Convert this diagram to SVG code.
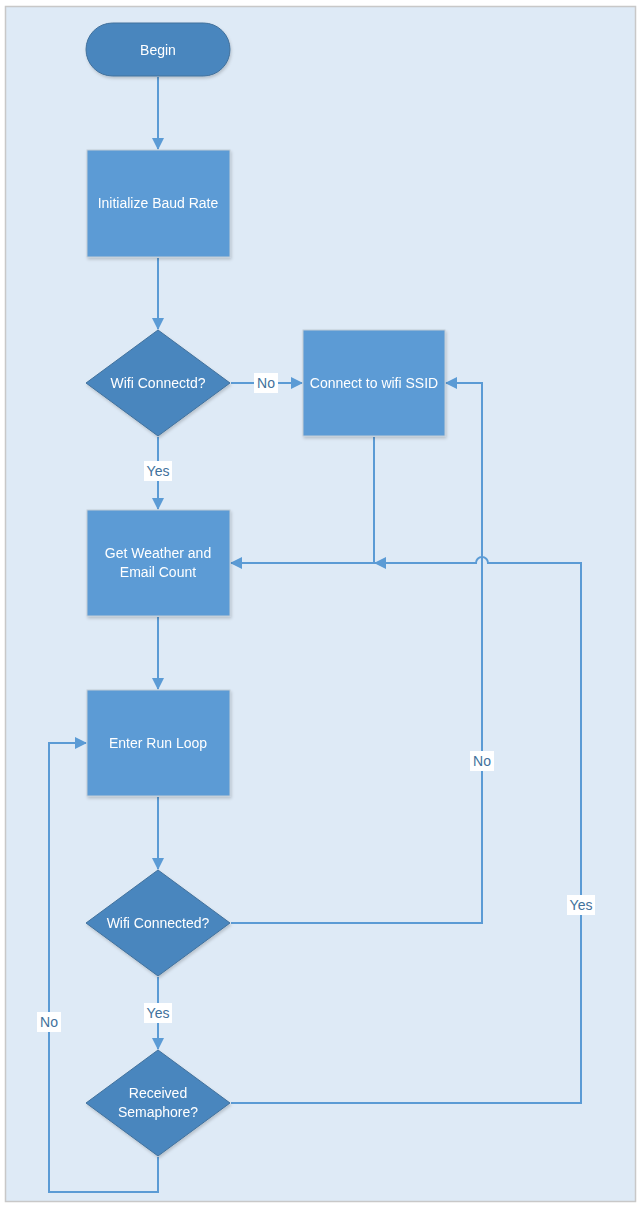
<svg xmlns="http://www.w3.org/2000/svg" width="639" height="1208" viewBox="0 0 639 1208">
<style>
.bg{fill:#DEEAF6;stroke:#C8C8C8;stroke-width:1.5}
.box{fill:#5B9BD5;stroke:#C2CCD6;stroke-width:1}
.dec{fill:#4A86BE;stroke:#41719C;stroke-width:1}
.t{font-family:"Liberation Sans",Arial,sans-serif;font-size:14px;fill:#FFFFFF;text-anchor:middle;dominant-baseline:central}
.ln{fill:none;stroke:#5B9BD5;stroke-width:2}
.lb{fill:#FFFFFF}
.lt{font-family:"Liberation Sans",Arial,sans-serif;font-size:14px;fill:#41719C;text-anchor:middle;dominant-baseline:central}
</style>
<defs>
<marker id="ah" markerWidth="12" markerHeight="12" refX="11" refY="6" orient="auto" markerUnits="userSpaceOnUse" viewBox="0 0 12 12">
<path d="M0,0 L12,6 L0,12 z" fill="#5B9BD5"/>
</marker>
<filter id="sh" x="-10%" y="-10%" width="130%" height="130%">
<feDropShadow dx="1" dy="2" stdDeviation="1.5" flood-color="#000" flood-opacity="0.18"/>
</filter>
</defs>
<rect class="bg" x="5.5" y="6.5" width="630" height="1195"/>
<g id="connectors">
<line class="ln" x1="158" y1="77" x2="158" y2="149" marker-end="url(#ah)"/>
<line class="ln" x1="158" y1="258" x2="158" y2="329" marker-end="url(#ah)"/>
<line class="ln" x1="231" y1="383" x2="302" y2="383" marker-end="url(#ah)"/>
<line class="ln" x1="158" y1="437" x2="158" y2="509" marker-end="url(#ah)"/>
<polyline class="ln" points="374,437 374,563 231,563" marker-end="url(#ah)"/>
<line class="ln" x1="158" y1="617" x2="158" y2="689" marker-end="url(#ah)"/>
<line class="ln" x1="158" y1="797" x2="158" y2="869" marker-end="url(#ah)"/>
<polyline class="ln" points="231,923 482,923 482,383 446,383" marker-end="url(#ah)"/>
<line class="ln" x1="158" y1="977" x2="158" y2="1049" marker-end="url(#ah)"/>
<path class="ln" d="M231,1103 H581 V563 H488 A6,6 0 0 0 476,563 H375" marker-end="url(#ah)"/>
<polyline class="ln" points="158,1157 158,1192 49,1192 49,743 86,743" marker-end="url(#ah)"/>
<rect class="lb" x="254" y="373" width="24" height="20"/>
<text class="lt" x="266" y="383">No</text>
<rect class="lb" x="144" y="461" width="28" height="20"/>
<text class="lt" x="158" y="471">Yes</text>
<rect class="lb" x="470" y="751" width="24" height="20"/>
<text class="lt" x="482" y="761">No</text>
<rect class="lb" x="567" y="895" width="28" height="20"/>
<text class="lt" x="581" y="905">Yes</text>
<rect class="lb" x="144" y="1003" width="28" height="20"/>
<text class="lt" x="158" y="1013">Yes</text>
<rect class="lb" x="37" y="1012" width="24" height="20"/>
<text class="lt" x="49" y="1022">No</text>
</g>
<g id="begin" filter="url(#sh)">
<rect class="dec" x="86" y="23" width="144" height="53" rx="26.5"/>
<text class="t" x="158" y="50">Begin</text>
</g>
<g id="init" filter="url(#sh)">
<rect class="box" x="87" y="150" width="143" height="107"/>
<text class="t" x="158" y="203">Initialize Baud Rate</text>
</g>
<g id="wifi1" filter="url(#sh)">
<polygon class="dec" points="158,330 230,383 158,436 86,383"/>
<text class="t" x="158" y="383">Wifi Connectd?</text>
</g>
<g id="connect" filter="url(#sh)">
<rect class="box" x="303" y="330" width="142" height="106"/>
<text class="t" x="374" y="383">Connect to wifi SSID</text>
</g>
<g id="weather" filter="url(#sh)">
<rect class="box" x="87" y="510" width="143" height="106"/>
<text class="t" x="158" y="553">Get Weather and</text>
<text class="t" x="158" y="572">Email Count</text>
</g>
<g id="runloop" filter="url(#sh)">
<rect class="box" x="87" y="690" width="143" height="106"/>
<text class="t" x="158" y="743">Enter Run Loop</text>
</g>
<g id="wifi2" filter="url(#sh)">
<polygon class="dec" points="158,870 230,923 158,976 86,923"/>
<text class="t" x="158" y="923">Wifi Connected?</text>
</g>
<g id="semaphore" filter="url(#sh)">
<polygon class="dec" points="158,1050 230,1103 158,1156 86,1103"/>
<text class="t" x="158" y="1093">Received</text>
<text class="t" x="158" y="1112">Semaphore?</text>
</g>
</svg>
